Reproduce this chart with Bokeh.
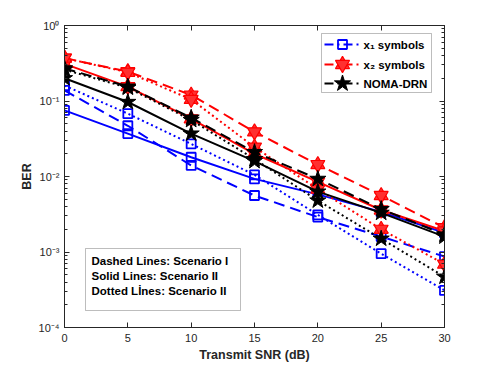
from bokeh.plotting import figure
from bokeh.models import (LinearAxis, LogAxis, FixedTicker,
                          CustomJSTickFormatter, BoxAnnotation, Label, Range1d)
from bokeh.embed import file_html
from bokeh.resources import INLINE

# ---------------- data ----------------
snr = [0, 5, 10, 15, 20, 25, 30]

x1_dashed = [0.138, 0.047, 0.014, 0.0056, 0.0029, 0.0016, 0.00087]
x1_solid = [0.075, 0.037, 0.018, 0.0093, 0.0058, 0.0034, 0.0018]
x1_dotted = [0.16, 0.068, 0.027, 0.0105, 0.0031, 0.00095, 0.00031]

x2_dashed = [0.37, 0.245, 0.12, 0.039, 0.0144, 0.0056, 0.0021]
x2_solid = [0.31, 0.155, 0.058, 0.020, 0.0085, 0.0036, 0.0019]
x2_dotted = [0.37, 0.24, 0.105, 0.0245, 0.0068, 0.0020, 0.00069]

noma_dashed = [0.27, 0.155, 0.060, 0.021, 0.0093, 0.0037, 0.0017]
noma_solid = [0.20, 0.097, 0.037, 0.016, 0.0063, 0.0033, 0.0016]
noma_dotted = [0.26, 0.150, 0.056, 0.017, 0.0048, 0.0015, 0.00047]

legend_labels = ["x\u2081 symbols", "x\u2082 symbols", "NOMA-DRN"]
note_lines = ["Dashed Lines: Scenario I", "Solid Lines: Scenario II", "Dotted L\u0130nes: Scenario II"]
x_ticks = [0, 5, 10, 15, 20, 25, 30]
y_major = [1e-4, 1e-3, 1e-2, 1e-1, 1.0]

# ---------------- layout constants ----------------
AX = "#262626"
FONT = "Liberation Sans"
W, H = 483, 366
BL, BR, BT, BB = 64, 39, 25, 39
FW, FH = W - BL - BR, H - BT - BB
X0, X1, LY0, LY1 = 0, 30, -4, 0


def px_to_data(px, py):
    """canvas pixel -> data coordinates (used only to place the legend and the note box)"""
    x = X0 + (px - BL) / FW * (X1 - X0)
    ly = LY1 - (py - BT) / FH * (LY1 - LY0)
    return x, 10 ** ly


p = figure(width=W, height=H, x_range=Range1d(X0, X1), y_range=Range1d(10 ** LY0, 10 ** LY1),
           y_axis_type="log", output_backend="svg", toolbar_location=None,
           min_border_left=BL, min_border_right=BR, min_border_top=BT, min_border_bottom=BB)
p.xgrid.visible = False
p.ygrid.visible = False
p.outline_line_color = AX
p.outline_line_width = 1
p.background_fill_color = "white"
p.border_fill_color = "white"

y_minor = [k * 10.0 ** e for e in range(-4, 0) for k in range(2, 10)]
yticker = FixedTicker(ticks=y_major, minor_ticks=y_minor)
xticker = FixedTicker(ticks=x_ticks)

sup_fmt = CustomJSTickFormatter(code="""
const sup = {'-':'\u207b','0':'\u2070','1':'\u00b9','2':'\u00b2','3':'\u00b3','4':'\u2074'};
const e = Math.round(Math.log10(tick));
return '10' + String(e).split('').map(c => sup[c]).join('');
""")
blank_fmt = CustomJSTickFormatter(code="return '';")


def style_axis(ax, minor=True):
    ax.axis_line_color = AX
    ax.axis_line_width = 1
    ax.major_tick_in = 5
    ax.major_tick_out = 0
    ax.major_tick_line_color = AX
    ax.major_tick_line_width = 1
    if minor:
        ax.minor_tick_in = 3
        ax.minor_tick_out = 0
        ax.minor_tick_line_color = AX
    else:
        ax.minor_tick_line_color = None
    ax.major_label_text_color = AX
    ax.major_label_text_font = FONT
    ax.major_label_text_font_size = "11px"


xa = p.xaxis[0]
xa.ticker = xticker
style_axis(xa, minor=False)
xa.major_label_standoff = 6
xa.axis_label = "Transmit SNR (dB)"
xa.axis_label_text_font = FONT
xa.axis_label_text_font_style = "bold"
xa.axis_label_text_font_size = "12.5px"
xa.axis_label_text_color = AX
xa.axis_label_standoff = 3

ya = p.yaxis[0]
ya.ticker = yticker
ya.formatter = sup_fmt
style_axis(ya)
ya.major_label_standoff = 5
ya.axis_label = "BER"
ya.axis_label_text_font = FONT
ya.axis_label_text_font_style = "bold"
ya.axis_label_text_font_size = "12.5px"
ya.axis_label_text_color = AX
ya.axis_label_standoff = 2

top = LinearAxis(ticker=xticker, formatter=blank_fmt)
style_axis(top, minor=False)
top.major_label_text_font_size = "0px"
top.major_label_standoff = 0
p.add_layout(top, "above")

right = LogAxis(ticker=yticker, formatter=blank_fmt)
style_axis(right)
right.major_label_text_font_size = "0px"
right.major_label_standoff = 0
p.add_layout(right, "right")

DASH = "11 6"
DOT = "2 3"
DASHDOT = "9 4 2 4"
HEX_FILL = "#ff3030"


def blue_sq(xs, ys, **kw):
    return p.scatter(xs, ys, marker="square", size=9, line_color="blue", line_width=1.8,
                     fill_alpha=0, **kw)


def hexagram(xs, ys, size=14, **kw):
    return [p.scatter(xs, ys, marker=m, size=size, line_color="red", line_width=1.2,
                      fill_color=HEX_FILL, fill_alpha=1, **kw)
            for m in ("triangle", "inverted_triangle")]


def black_star(xs, ys, **kw):
    return p.scatter(xs, ys, marker="star", size=17, line_color="black", fill_color="black", **kw)


# ---------------- legend box and note box (behind everything) ----------------
lx0, ly0 = px_to_data(321, 33)
lx1, ly1 = px_to_data(431, 92)
p.add_layout(BoxAnnotation(left=lx0, right=lx1, bottom=ly1, top=ly0, fill_color="white",
                           fill_alpha=1, line_color=AX, line_width=1, level="underlay"))
bx0, by0 = px_to_data(85, 248)
bx1, by1 = px_to_data(240, 310)
p.add_layout(BoxAnnotation(left=bx0, right=bx1, bottom=by1, top=by0, fill_color="white",
                           fill_alpha=1, line_color=AX, line_width=1, level="underlay"))

# ---------------- data series ----------------
for ys, dash in ((x1_dashed, DASH), (x1_solid, "solid"), (x1_dotted, DOT)):
    p.line(snr, ys, line_color="blue", line_width=2, line_dash=dash)
    blue_sq(snr, ys)
for ys, dash in ((x2_dashed, DASH), (x2_solid, "solid"), (x2_dotted, DOT)):
    p.line(snr, ys, line_color="red", line_width=2, line_dash=dash)
    hexagram(snr, ys)
for ys, dash in ((noma_dashed, DASH), (noma_solid, "solid"), (noma_dotted, DOT)):
    p.line(snr, ys, line_color="black", line_width=2, line_dash=dash)
    black_star(snr, ys)

# ---------------- legend keys and labels ----------------
key_rows = [44, 64, 83]
key_colors = ["blue", "red", "black"]
key_markers = [blue_sq, hexagram, black_star]
for row, col, mk, lab in zip(key_rows, key_colors, key_markers, legend_labels):
    xa0, yk = px_to_data(324, row)
    xa1, _ = px_to_data(359, row)
    xm, _ = px_to_data(342, row)
    p.line([xa0, xa1], [yk, yk], line_color=col, line_width=2, line_dash=DASHDOT)
    mk([xm], [yk])
    tx, _ = px_to_data(363, row)
    p.add_layout(Label(x=tx, y=yk, text=lab, text_font=FONT, text_font_style="bold",
                       text_font_size="11.5px", text_color="black", text_baseline="middle"))

# ---------------- note text ----------------
for txt, row in zip(note_lines, [260, 275, 290]):
    tx, ty = px_to_data(91, row)
    p.add_layout(Label(x=tx, y=ty, text=txt, text_font=FONT, text_font_style="bold",
                       text_font_size="11.5px", text_color="black", text_baseline="middle"))

open("out.html", "w").write(file_html(p, INLINE))
